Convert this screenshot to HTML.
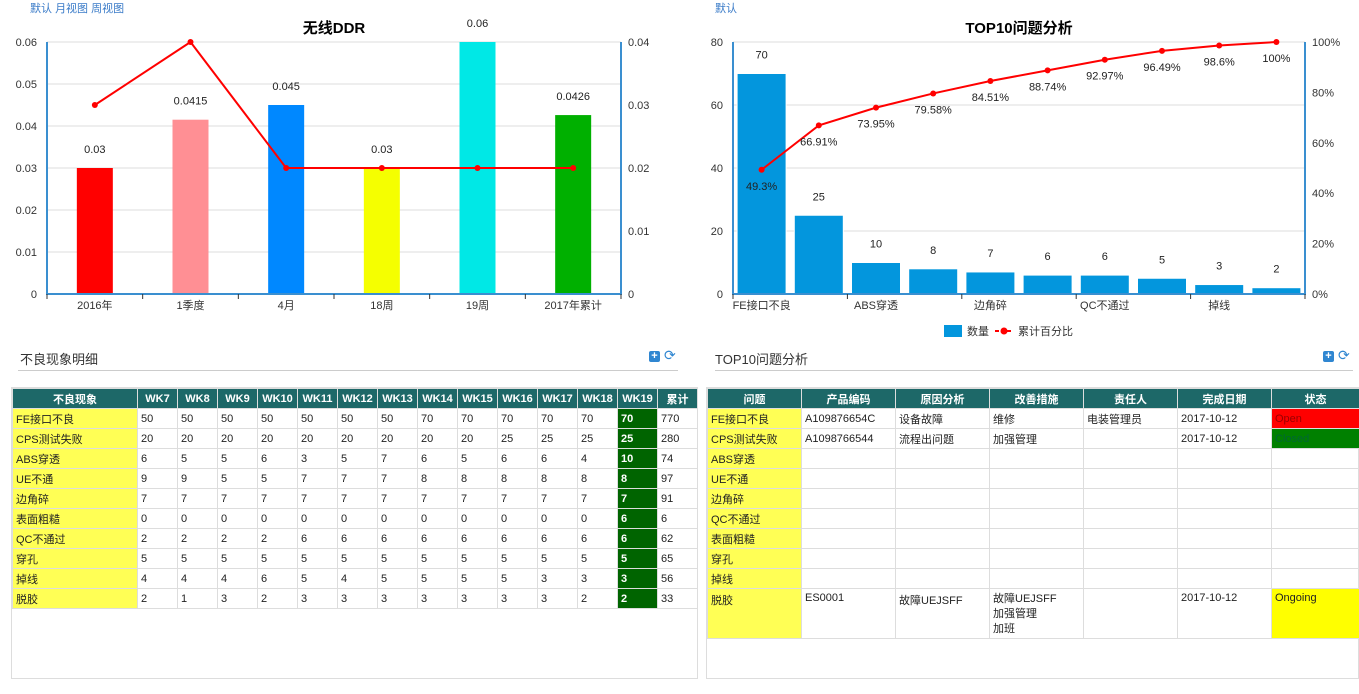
<!DOCTYPE html>
<html><head><meta charset="utf-8"><style>
*{margin:0;padding:0;box-sizing:border-box}
body{width:1359px;height:694px;background:#fff;font-family:"Liberation Sans","Noto Sans CJK SC",sans-serif;position:relative;overflow:hidden;color:#222}
.abs{position:absolute}
.lnk{color:#3a7bc8;font-size:11px}
.ptitle{font-size:13px;color:#333}
.hr{height:1px;background:#ccc}
.box{border:1px solid #ddd}
table{border-collapse:collapse;font-size:11px;table-layout:fixed}
td,th{border:1px solid #ddd;height:20px;padding:0 3px;text-align:left;white-space:nowrap;overflow:hidden}
th{background:#1d6868;color:#fff;text-align:center;font-weight:bold}
.y{background:#ffff55}
.g{background:#006400;color:#fff;font-weight:bold}
.icon{width:11px;height:11px;border-radius:2px;background:#2f86d1;color:#fff;font-size:11px;line-height:11px;text-align:center;font-weight:bold}
.ref{color:#2f86d1;font-size:14px;line-height:11px}
</style></head><body>
<div class="abs lnk" style="left:30px;top:0px"><span>默认</span> <span>月视图</span> <span>周视图</span></div>
<div class="abs lnk" style="left:715px;top:0px">默认</div>
<svg class="abs" style="left:0;top:0" width="1359" height="345" id="charts"></svg>

<div class="abs ptitle" style="left:20px;top:349px">不良现象明细</div>
<div class="abs hr" style="left:18px;top:370px;width:660px"></div>
<div class="abs icon" style="left:649px;top:351px">+</div>
<div class="abs ref" style="left:664px;top:350px">⟳</div>
<div class="abs ptitle" style="left:715px;top:349px">TOP10问题分析</div>
<div class="abs hr" style="left:715px;top:370px;width:638px"></div>
<div class="abs icon" style="left:1323px;top:351px">+</div>
<div class="abs ref" style="left:1338px;top:350px">⟳</div>

<div class="abs box" style="left:11px;top:387px;width:687px;height:292px">
<table id="t1" style="width:686px"></table></div>
<div class="abs box" style="left:706px;top:387px;width:653px;height:292px">
<table style="width:653px">
<colgroup><col style="width:94px"><col style="width:94px"><col style="width:94px"><col style="width:94px"><col style="width:94px"><col style="width:94px"><col></colgroup>
<tr><th>问题</th><th>产品编码</th><th>原因分析</th><th>改善措施</th><th>责任人</th><th>完成日期</th><th>状态</th></tr>
<tr><td class="y">FE接口不良</td><td>A109876654C</td><td>设备故障</td><td>维修</td><td>电装管理员</td><td>2017-10-12</td><td style="background:#f00;color:#900">Open</td></tr>
<tr><td class="y">CPS测试失败</td><td>A1098766544</td><td>流程出问题</td><td>加强管理</td><td></td><td>2017-10-12</td><td style="background:#008000;color:#063">Closed</td></tr>
<tr><td class="y">ABS穿透</td><td></td><td></td><td></td><td></td><td></td><td></td></tr>
<tr><td class="y">UE不通</td><td></td><td></td><td></td><td></td><td></td><td></td></tr>
<tr><td class="y">边角碎</td><td></td><td></td><td></td><td></td><td></td><td></td></tr>
<tr><td class="y">QC不通过</td><td></td><td></td><td></td><td></td><td></td><td></td></tr>
<tr><td class="y">表面粗糙</td><td></td><td></td><td></td><td></td><td></td><td></td></tr>
<tr><td class="y">穿孔</td><td></td><td></td><td></td><td></td><td></td><td></td></tr>
<tr><td class="y">掉线</td><td></td><td></td><td></td><td></td><td></td><td></td></tr>
<tr style="height:50px;vertical-align:top"><td class="y" style="padding-top:3px">脱胶</td><td style="padding-top:3px">ES0001</td><td style="padding-top:3px">故障UEJSFF</td><td style="padding-top:3px;line-height:15px">故障UEJSFF<br>加强管理<br>加班</td><td></td><td style="padding-top:3px">2017-10-12</td><td style="background:#ff0;padding-top:3px">Ongoing</td></tr>
</table></div>

<script>
const ddrCats=["2016年","1季度","4月","18周","19周","2017年累计"];
const ddrBars=[0.03,0.0415,0.045,0.03,0.06,0.0426];
const ddrLine=[0.03,0.04,0.02,0.02,0.02,0.02];
const ddrColors=["#ff0000","#ff8f94","#0088ff","#f5ff00","#00e8e6","#00b000"];
const ddrLeftTicks=[0,0.01,0.02,0.03,0.04,0.05,0.06];
const ddrRightTicks=[0,0.01,0.02,0.03,0.04];
const topCats=["FE接口不良","CPS测试失败","ABS穿透","UE不通","边角碎","表面粗糙","QC不通过","穿孔","掉线","脱胶"];
const topCounts=[70,25,10,8,7,6,6,5,3,2];
const topPct=[49.3,66.91,73.95,79.58,84.51,88.74,92.97,96.49,98.6,100];
const topLeftTicks=[0,20,40,60,80];
const topRightTicks=[0,20,40,60,80,100];
const weeks=["WK7","WK8","WK9","WK10","WK11","WK12","WK13","WK14","WK15","WK16","WK17","WK18","WK19"];
const defects=["FE接口不良","CPS测试失败","ABS穿透","UE不通","边角碎","表面粗糙","QC不通过","穿孔","掉线","脱胶"];
const weekly=[[50,50,50,50,50,50,50,70,70,70,70,70,70],[20,20,20,20,20,20,20,20,20,25,25,25,25],[6,5,5,6,3,5,7,6,5,6,6,4,10],[9,9,5,5,7,7,7,8,8,8,8,8,8],[7,7,7,7,7,7,7,7,7,7,7,7,7],[0,0,0,0,0,0,0,0,0,0,0,0,6],[2,2,2,2,6,6,6,6,6,6,6,6,6],[5,5,5,5,5,5,5,5,5,5,5,5,5],[4,4,4,6,5,4,5,5,5,5,3,3,3],[2,1,3,2,3,3,3,3,3,3,3,2,2]];
const totals=[770,280,74,97,91,6,62,65,56,33];

const NS="http://www.w3.org/2000/svg";
const svg=document.getElementById('charts');
function mk(tag,attrs,txt,parent){const e=document.createElementNS(NS,tag);for(const k in attrs)e.setAttribute(k,attrs[k]);if(txt!==undefined)e.textContent=txt;(parent||svg).appendChild(e);return e;}

function chart(o){
  const L=o.L,R=o.R,T=42,B=294,n=o.cats.length,bw=(R-L)/n;
  const yl=v=>B-(v/o.lmax)*(B-T), yr=v=>B-(v/o.rmax)*(B-T), xc=i=>L+bw*(i+0.5);
  let t=mk('text',{x:(L+R)/2,y:33,'text-anchor':'middle','font-size':15,'font-weight':'bold'},o.title);
  
  o.lt.forEach(v=>{let g=mk('line',{x1:L,x2:R,y1:yl(v),y2:yl(v),stroke:'#ddd'});
    let tx=mk('text',{x:L-10,y:yl(v)+4,'text-anchor':'end','font-size':11,fill:'#333'},o.lf(v));});
  o.rt.forEach(v=>{let tx=mk('text',{x:R+7,y:yr(v)+4,'font-size':11,fill:'#333'},o.rf(v));});
  o.vals.forEach((v,i)=>{let b=mk('rect',{x:xc(i)-o.bar/2,y:yl(v),width:o.bar,height:B-yl(v),fill:o.col(i),stroke:o.stroke||'none'});
    let tx=mk('text',{x:xc(i),y:yl(v)-15,'text-anchor':'middle','font-size':11,fill:'#222'},o.vf(v));});
  mk('line',{x1:L,x2:L,y1:T,y2:B+1,stroke:'#3a8fd0','stroke-width':2});
  mk('line',{x1:R,x2:R,y1:T,y2:B+1,stroke:'#3a8fd0','stroke-width':2});
  mk('line',{x1:L,x2:R,y1:B,y2:B,stroke:'#3a8fd0','stroke-width':2});
  for(let i=0;i<=n;i+=o.tickStep){mk('line',{x1:L+bw*i,x2:L+bw*i,y1:B,y2:B+5,stroke:'#333'});}
  o.cats.forEach((c,i)=>{if(i%o.tickStep)return;let tx=mk('text',{x:xc(i),y:B+15,'text-anchor':'middle','font-size':11,fill:'#333'},c);});
  const pts=o.line.map((v,i)=>xc(i)+','+yr(v)).join(' ');
  let pl=mk('polyline',{points:pts,fill:'none',stroke:'#f00','stroke-width':2});
  o.line.forEach((v,i)=>{let c=mk('circle',{cx:xc(i),cy:yr(v),r:3,fill:'#f00'});
    if(o.lineLabel){let tx=mk('text',{x:xc(i),y:yr(v)+20,'text-anchor':'middle','font-size':11,fill:'#222'},o.lineLabel(v));}});
}
chart({L:47,R:621,title:'无线DDR',cats:ddrCats,vals:ddrBars,line:ddrLine,lmax:0.06,rmax:0.04,lt:ddrLeftTicks,rt:ddrRightTicks,lf:v=>String(v),rf:v=>String(v),vf:v=>String(v),col:i=>ddrColors[i],bar:36,tickStep:1});
chart({L:733,R:1305,title:'TOP10问题分析',cats:topCats,vals:topCounts,line:topPct,lmax:80,rmax:100,lt:topLeftTicks,rt:topRightTicks,lf:v=>String(v),rf:v=>v+'%',vf:v=>String(v),col:i=>'#0396dd',stroke:'#fff',bar:49,tickStep:2,lineLabel:v=>v+'%'});
// legend
let lg=mk('g',{});
let r1=mk('rect',{x:944,y:325,width:18,height:12,fill:'#0396dd'},undefined,lg);
mk('text',{x:967,y:335,'font-size':11,fill:'#333'},'数量',lg);
mk('line',{x1:995,x2:1013,y1:331,y2:331,stroke:'#f00','stroke-width':2,'stroke-dasharray':'4,2'},undefined,lg);
mk('circle',{cx:1004,cy:331,r:3.5,fill:'#f00'},undefined,lg);
mk('text',{x:1018,y:335,'font-size':11,fill:'#333'},'累计百分比',lg);

// defect table
const t1=document.getElementById('t1');
let h='<colgroup><col style="width:125px">'+weeks.map(()=> '<col style="width:40px">').join('')+'<col></colgroup>';
h+='<tr><th>不良现象</th>'+weeks.map(w=>'<th>'+w+'</th>').join('')+'<th>累计</th></tr>';
defects.forEach((d,r)=>{h+='<tr><td class="y">'+d+'</td>'+weekly[r].map((v,i)=>'<td'+(i===12?' class="g"':'')+'>'+v+'</td>').join('')+'<td>'+totals[r]+'</td></tr>';});
t1.innerHTML=h;
</script>
</body></html>
